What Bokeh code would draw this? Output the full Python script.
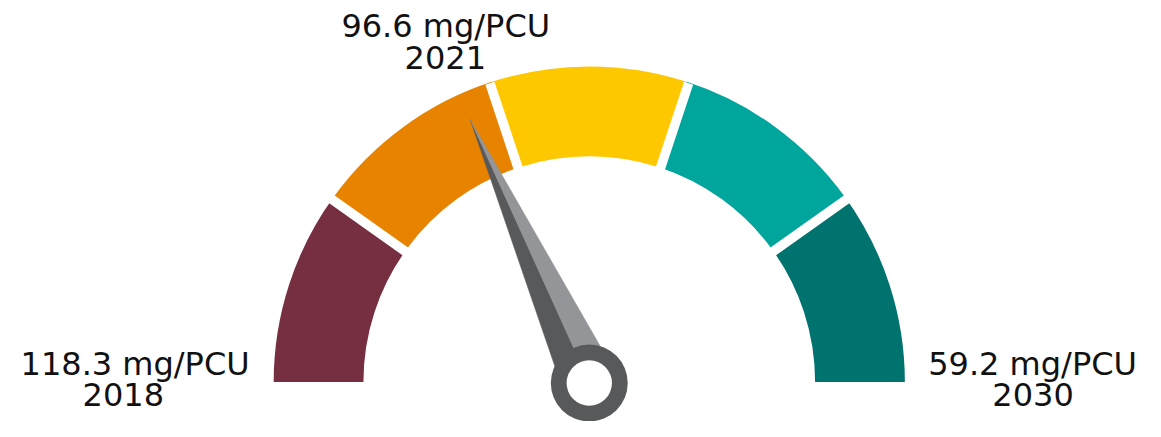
import numpy as np
from bokeh.plotting import figure
from bokeh.models import Range1d
from bokeh.core.properties import value
from bokeh.embed import file_html
from bokeh.resources import INLINE

# ---- data ----
start_value = 118.3
current_value = 96.6
target_value = 59.2
years = ["2018", "2021", "2030"]
values = [start_value, current_value, target_value]
unit = "mg/PCU"
band_colors = ["#762F41", "#E88300", "#FDC800", "#00A59B", "#00736F"]
needle_dark = "#58595B"
needle_light = "#939598"

# ---- layout constants (reference pixel space 1161 x 437) ----
RW, RH = 1161, 437
W, H = 1145, 421
cx, cy = 597.0, 41.0
r_in, r_out = 229.0, 320.0
needle_len, needle_hw = 298.0, 28.0
ring_out, ring_in = 39.0, 23.0

p = figure(width=W, height=H, x_range=Range1d(0, RW), y_range=Range1d(0, RH),
           output_backend="svg", toolbar_location=None, min_border=0,
           x_axis_location=None, y_axis_location=None)
p.grid.visible = False
p.outline_line_color = None
p.background_fill_color = "white"
p.border_fill_color = "white"

n = len(band_colors)
starts = [np.pi * (1 - (i + 1) / n) for i in range(n)]
ends = [np.pi * (1 - i / n) for i in range(n)]
p.annular_wedge(x=[cx] * n, y=[cy] * n, inner_radius=r_in, outer_radius=r_out,
                start_angle=starts, end_angle=ends, direction="anticlock",
                fill_color=band_colors, line_color=None)

# white gaps between bands
gap_angles = [np.pi * k / n for k in range(1, n)]
p.segment(x0=[cx + (r_in - 6) * np.cos(a) for a in gap_angles],
          y0=[cy + (r_in - 6) * np.sin(a) for a in gap_angles],
          x1=[cx + (r_out + 6) * np.cos(a) for a in gap_angles],
          y1=[cy + (r_out + 6) * np.sin(a) for a in gap_angles],
          line_color="white", line_width=9.5, line_cap="butt")

# needle
frac = (start_value - current_value) / (start_value - target_value)
theta = np.pi * (1 - frac)
tip = (cx + needle_len * np.cos(theta), cy + needle_len * np.sin(theta))
px_, py_ = -np.sin(theta), np.cos(theta)
left = (cx + needle_hw * px_, cy + needle_hw * py_)
right = (cx - needle_hw * px_, cy - needle_hw * py_)
p.patches(xs=[[tip[0], cx, left[0]], [tip[0], right[0], cx]],
          ys=[[tip[1], cy, left[1]], [tip[1], right[1], cy]],
          fill_color=[needle_dark, needle_light],
          line_color=[needle_dark, needle_light], line_width=0.5)

# pivot ring
p.circle(x=[cx], y=[cy - 1], radius=ring_out, fill_color=needle_dark, line_color=None)
p.circle(x=[cx], y=[cy - 1], radius=ring_in, fill_color="white", line_color=None)

# labels (top of text box anchored)
line1 = [f"{v} {unit}" for v in values]
lx1 = [136.5, 451.5, 1046.5]
ly1 = [79.0, 430.0, 79.0]
lx2 = [124.5, 451.0, 1047.0]
ly2 = [40.0, 390.0, 40.0]
p.text(x=lx1, y=ly1, text=line1, text_align="center", text_baseline="top",
       text_font=value("DejaVu Sans"), text_font_size="32px", text_color="#111111")
p.text(x=lx2, y=ly2, text=years, text_align="center", text_baseline="top",
       text_font=value("DejaVu Sans"), text_font_size="32px", text_color="#111111")

open("out.html", "w").write(file_html(p, INLINE))
